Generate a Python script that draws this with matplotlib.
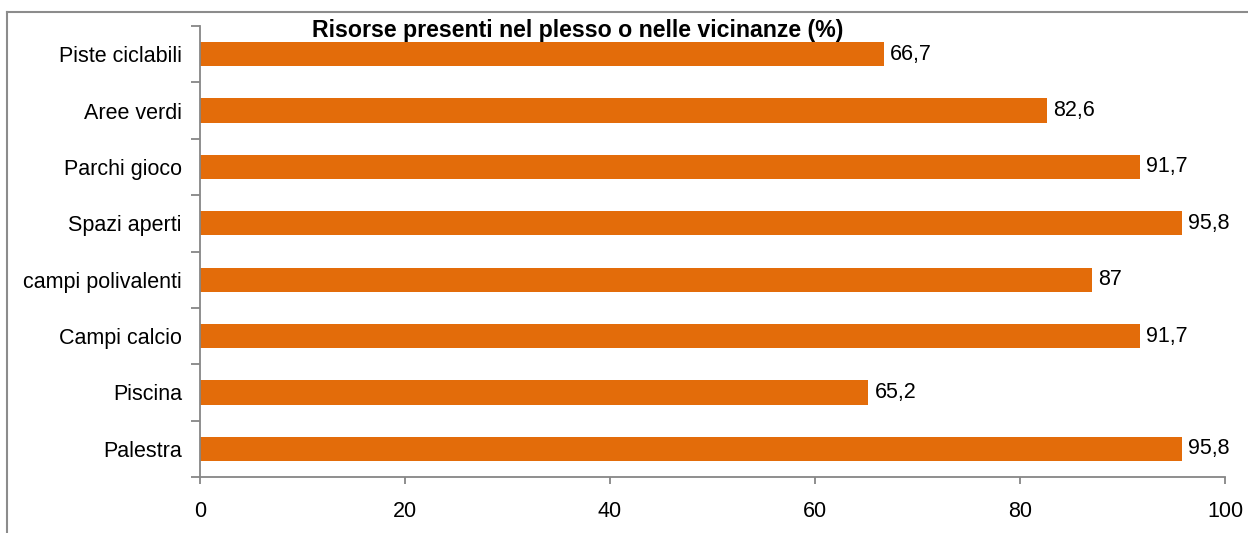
import matplotlib
matplotlib.use('Agg')
import matplotlib.pyplot as plt
from matplotlib.lines import Line2D
import numpy as np

plt.rcParams['font.family'] = ['Liberation Sans', 'DejaVu Sans']

categorie = ['Palestra', 'Piscina', 'Campi calcio', 'campi polivalenti',
             'Spazi aperti', 'Parchi gioco', 'Aree verdi', 'Piste ciclabili']
valori = [95.8, 65.2, 91.7, 87, 95.8, 91.7, 82.6, 66.7]
x_ticks = [0, 20, 40, 60, 80, 100]

fig = plt.figure(figsize=(12.48, 5.33), dpi=100)
ax = fig.add_axes([200/1248, 1-477/533, 1025/1248, 451/533])

y = np.arange(len(categorie))
ax.barh(y, valori, height=0.43, color='#E36C0A')

for yi, v in zip(y, valori):
    ax.text(v + 0.6, yi, f'{v:g}'.replace('.', ','), va='center', ha='left', fontsize=15.5)

ax.set_xlim(0, 100)
ax.set_ylim(-0.5, len(categorie) - 0.5)
ax.set_xticks(x_ticks)
ax.set_yticks(y)
ax.set_yticklabels(categorie)
ax.set_yticks(np.arange(-0.5, len(categorie)), minor=True)

for s in ['top', 'right']:
    ax.spines[s].set_visible(False)
for s in ['left', 'bottom']:
    ax.spines[s].set_color('#868686')
    ax.spines[s].set_linewidth(1.3)

ax.tick_params(axis='y', which='major', length=0, pad=13, labelsize=15.5)
ax.tick_params(axis='y', which='minor', length=6.5, width=1.3, color='#868686', direction='out')
ax.tick_params(axis='x', length=5, width=1.3, color='#868686', pad=12, labelsize=15.5)

fig.text(578/1248, 1-30/533, 'Risorse presenti nel plesso o nelle vicinanze (%)',
         ha='center', va='center', fontsize=16.7, fontweight='bold')

# cornice esterna
fig.add_artist(Line2D([7/1248, 1], [1-12/533, 1-12/533], color='#8c8c8c', lw=1.5, transform=fig.transFigure))
fig.add_artist(Line2D([7/1248, 7/1248], [0, 1-12/533], color='#8c8c8c', lw=1.5, transform=fig.transFigure))

fig.savefig('out.png', dpi=100)
